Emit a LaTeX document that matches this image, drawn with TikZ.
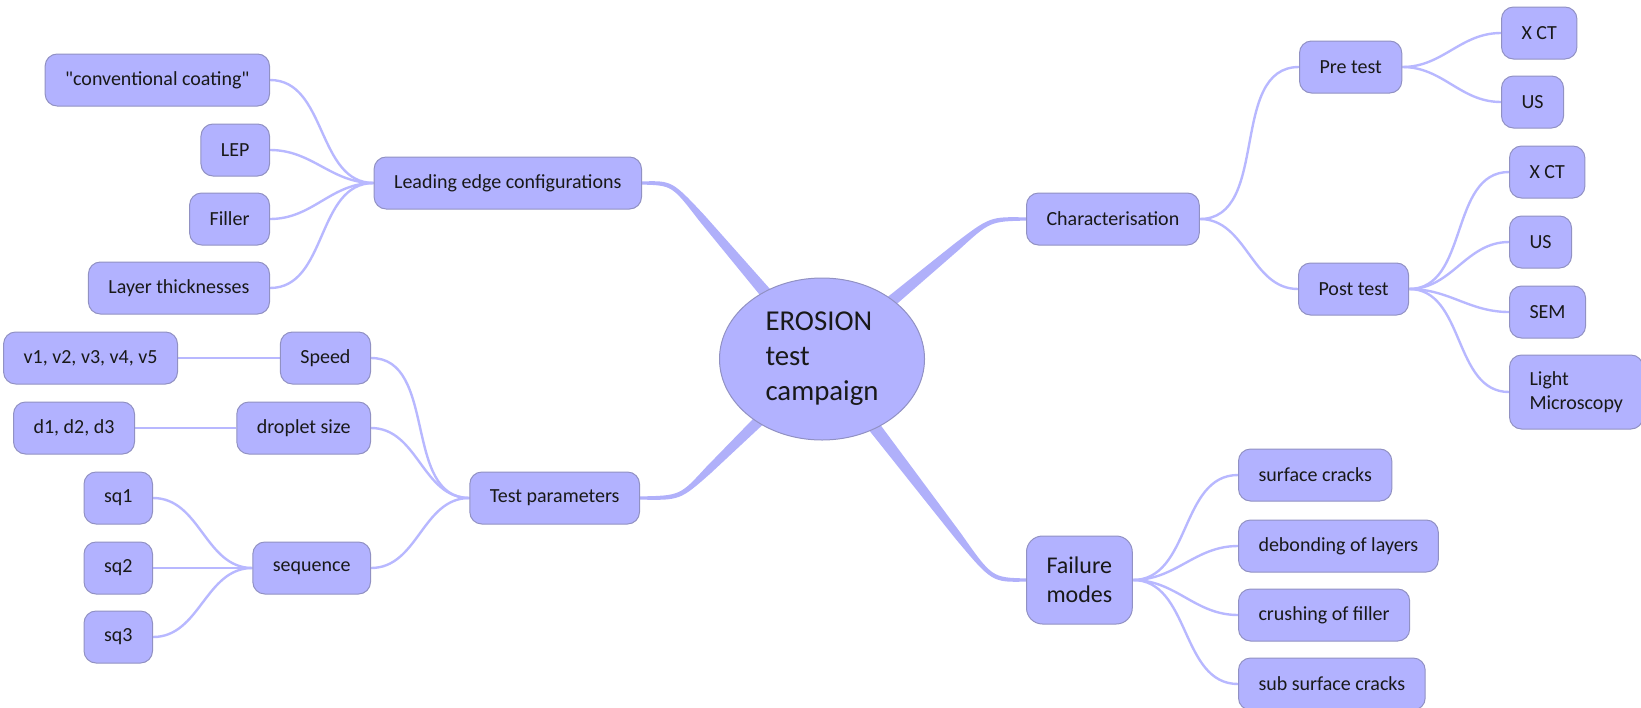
\documentclass[tikz,border=0pt]{standalone}
\usepackage{fontspec}
\setmainfont{Carlito}
\usepackage{tikz}
\usetikzlibrary{shapes.geometric,backgrounds,calc}

\definecolor{boxfill}{RGB}{178,178,255}
\definecolor{boxline}{RGB}{145,145,195}
\definecolor{twigcol}{RGB}{184,184,255}
\definecolor{trunkcol}{RGB}{176,176,250}

\tikzset{
  topic/.style={draw=boxline, fill=boxfill, rounded corners=6pt, minimum height=26pt,
    inner xsep=10pt, line width=0.5pt, text=black!90, font=\fontsize{10}{12}\selectfont},
  leftbox/.style={topic, anchor=east},
  rightbox/.style={topic, anchor=west},
  twigl/.style={draw=twigcol, line width=1.2pt, out=180, in=0},
  twigr/.style={draw=twigcol, line width=1.2pt, out=0, in=180},
}

% tapered main branch: root, corner, target
\newcommand{\trunk}[3]{%
  \fill[trunkcol] ($(#1)!3.8pt!90:(#2)$) -- ($($(#1)!0.8!(#2)$)!1.9pt!-90:(#1)$)
    .. controls ($(#2)!1.2pt!90:(#3)$) .. ($(#3)!0.8pt!-90:(#2)$)
    -- ($(#3)!0.8pt!90:(#2)$)
    .. controls ($(#2)!1.2pt!-90:(#3)$) .. ($($(#1)!0.8!(#2)$)!1.9pt!90:(#1)$)
    -- ($(#1)!3.8pt!-90:(#2)$) -- cycle;}

\begin{document}
\begin{tikzpicture}[x=0.5pt, y=-0.5pt]
    \useasboundingbox (0,0) rectangle (1641,707);
    \clip (0,0) rectangle (1641,707);

    \node[ellipse, draw=boxline, fill=boxfill, line width=0.5pt, minimum width=102.5pt, minimum height=81pt,
      inner sep=0pt, align=left, text=black!90, font=\fontsize{14.4}{17.5}\selectfont] (root) at (822, 359) {EROSION\\test\\campaign};

    % left side
    \node[leftbox] (lec) at (642, 183) {Leading edge configurations};
    \node[leftbox] (cc) at (270, 80) {\textquotedbl conventional coating\textquotedbl};
    \node[leftbox] (lep) at (270, 150) {LEP};
    \node[leftbox] (filler) at (270, 219) {Filler};
    \node[leftbox] (layers) at (270, 288) {Layer thicknesses};

    \node[leftbox] (tp) at (640, 498) {Test parameters};
    \node[leftbox] (speed) at (371, 358) {Speed};
    \node[leftbox] (drop) at (371, 428) {droplet size};
    \node[leftbox] (seq) at (371, 568) {sequence};
    \node[leftbox] (vel) at (178, 358) {v1, v2, v3, v4, v5};
    \node[leftbox] (dia) at (135, 428) {d1, d2, d3};
    \node[leftbox] (sq1) at (153, 498) {sq1};
    \node[leftbox] (sq2) at (153, 568) {sq2};
    \node[leftbox] (sq3) at (153, 637) {sq3};

    % right side
    \node[rightbox] (char) at (1026, 219) {Characterisation};
    \node[rightbox] (pre) at (1299, 67) {Pre test};
    \node[rightbox] (post) at (1298, 289) {Post test};
    \node[rightbox] (xct1) at (1501, 33) {X CT};
    \node[rightbox] (us1) at (1501, 102) {US};
    \node[rightbox] (xct2) at (1509, 172) {X CT};
    \node[rightbox] (us2) at (1509, 242) {US};
    \node[rightbox] (sem) at (1509, 312) {SEM};
    \node[rightbox, align=left, minimum height=37pt] (lm) at (1509, 392) {Light\\Microscopy};

    \node[rightbox, align=left, minimum height=44pt, rounded corners=8pt,
      font=\fontsize{12}{14.5}\selectfont] (fm) at (1026, 580) {Failure\\modes};
    \node[rightbox] (sc) at (1238, 475) {surface cracks};
    \node[rightbox] (deb) at (1238, 546) {debonding of layers};
    \node[rightbox] (crush) at (1238, 615) {crushing of filler};
    \node[rightbox] (ssc) at (1238, 684) {sub surface cracks};

    \begin{scope}[on background layer]
    \trunk{root.center}{672,183}{lec.east}
    \trunk{root.center}{990,219}{char.west}
    \trunk{root.center}{680,498}{tp.east}
    \trunk{root.center}{992,580}{fm.west}

    \path
    (lec.west) edge[twigl] (cc.east)
    (lec.west) edge[twigl] (lep.east)
    (lec.west) edge[twigl] (filler.east)
    (lec.west) edge[twigl] (layers.east)
    (tp.west) edge[twigl] (speed.east)
    (tp.west) edge[twigl] (drop.east)
    (tp.west) edge[twigl] (seq.east)
    (speed.west) edge[twigl] (vel.east)
    (drop.west) edge[twigl] (dia.east)
    (seq.west) edge[twigl] (sq1.east)
    (seq.west) edge[twigl] (sq2.east)
    (seq.west) edge[twigl] (sq3.east);

    \path
    (char.east) edge[twigr] (pre.west)
    (char.east) edge[twigr] (post.west)
    (pre.east) edge[twigr] (xct1.west)
    (pre.east) edge[twigr] (us1.west)
    (post.east) edge[twigr] (xct2.west)
    (post.east) edge[twigr] (us2.west)
    (post.east) edge[twigr] (sem.west)
    (post.east) edge[twigr] (lm.west)
    (fm.east) edge[twigr] (sc.west)
    (fm.east) edge[twigr] (deb.west)
    (fm.east) edge[twigr] (crush.west)
    (fm.east) edge[twigr] (ssc.west);
    \end{scope}
\end{tikzpicture}
\end{document}
